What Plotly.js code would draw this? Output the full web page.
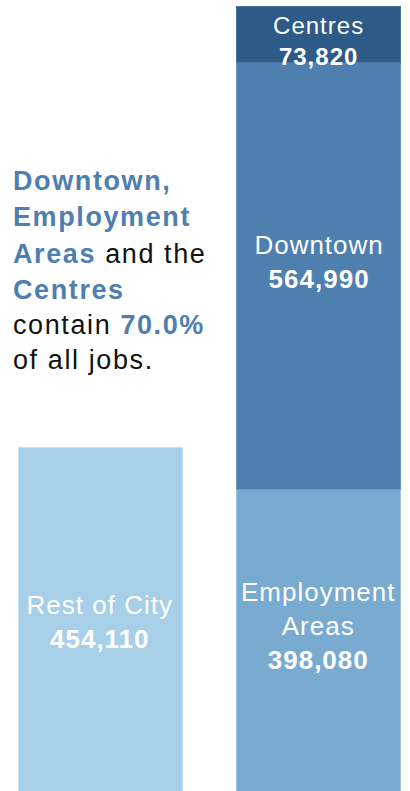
<!DOCTYPE html>
<html>
<head>
<meta charset="utf-8">
<script src="https://cdn.plot.ly/plotly-3.0.1.min.js"></script>
<style>
  html, body { margin: 0; padding: 0; background: #ffffff; }
  #chart { width: 410px; height: 791px; }
  .annotation-text { letter-spacing: 1.6px; }
  .barlabel .annotation-text { letter-spacing: 1px; }
</style>
</head>
<body>
<div id="chart"></div>
<script>
// ---- data ----
const categories = ['Rest of City', 'Focus Areas'];
const segmentNames = ['Rest of City', 'Employment Areas', 'Downtown', 'Centres'];
const segmentLabels = ['Rest of City', 'Employment<br>Areas', 'Downtown', 'Centres'];
const segmentCategory = ['Rest of City', 'Focus Areas', 'Focus Areas', 'Focus Areas'];
const segmentValues = [454110, 398080, 564990, 73820];
const segmentColors = ['#a8cfe8', '#79aad0', '#4e7fae', '#2d5a87'];
const segmentLineColors = ['#c4e0f2', '#a3c6e2', '#6d97c1', '#4a75a0'];
const segmentFontSizes = [26, 26, 26, 24];
const segmentLabelShift = [-3, 14, 14, -6];
const noteLines = [
  '<b><span style="color:#4f7eb0">Downtown,</span></b>',
  '<b><span style="color:#4f7eb0">Employment</span></b>',
  '<b><span style="color:#4f7eb0">Areas</span></b> and the',
  '<b><span style="color:#4f7eb0">Centres</span></b>',
  'contain <b><span style="color:#4f7eb0">70.0%</span></b>',
  'of all jobs.'
];
const notePixelY = [181, 217, 254, 290, 325, 360];

// ---- layout constants ----
const W = 410, H = 791;
const FONT = '"Liberation Sans", Arial, Helvetica, sans-serif';

const traces = segmentNames.map((name, i) => ({
  type: 'bar',
  name: name,
  x: [segmentCategory[i]],
  y: [segmentValues[i]],
  width: 0.749,
  marker: { color: segmentColors[i], line: { color: segmentLineColors[i], width: 1 } },
  hoverinfo: 'skip'
}));

// bar labels placed at the middle of each stacked segment (data coordinates)
const stackBase = {};
const barLabels = segmentNames.map((name, i) => {
  const cat = segmentCategory[i];
  const base = stackBase[cat] || 0;
  stackBase[cat] = base + segmentValues[i];
  return {
    xref: 'x', yref: 'y',
    x: cat, y: base + segmentValues[i] / 2,
    yshift: segmentLabelShift[i],
    xanchor: 'center', yanchor: 'middle',
    text: segmentLabels[i] + '<br><b>' + segmentValues[i].toLocaleString('en-US') + '</b>',
    showarrow: false,
    align: 'center',
    font: { family: FONT, size: segmentFontSizes[i], color: '#ffffff' },
    name: 'barlabel'
  };
});

const notes = noteLines.map((t, i) => ({
  xref: 'paper', yref: 'paper',
  x: 11 / W, y: 1 - notePixelY[i] / H,
  xanchor: 'left', yanchor: 'middle',
  text: t,
  showarrow: false,
  align: 'left',
  font: { family: FONT, size: 27, color: '#111111' }
}));

const layout = {
  width: W, height: H,
  margin: { l: 0, r: 0, t: 0, b: 0, pad: 0 },
  paper_bgcolor: '#ffffff',
  plot_bgcolor: '#ffffff',
  barmode: 'stack',
  showlegend: false,
  xaxis: {
    type: 'category',
    categoryorder: 'array',
    categoryarray: categories,
    range: [-0.457, 1.416],
    visible: false,
    fixedrange: true
  },
  yaxis: {
    range: [0, 1046000],
    visible: false,
    fixedrange: true
  },
  annotations: notes.concat(barLabels),
  font: { family: FONT }
};

Plotly.newPlot('chart', traces, layout, { displayModeBar: false, staticPlot: true }).then(gd => {
  // narrower letter spacing for the labels inside the bars
  const all = gd.querySelectorAll('.annotation');
  all.forEach((el, idx) => {
    if (idx >= notes.length) {
      el.querySelectorAll('.annotation-text').forEach(t => t.style.letterSpacing = '1px');
    }
  });
});
</script>
</body>
</html>
